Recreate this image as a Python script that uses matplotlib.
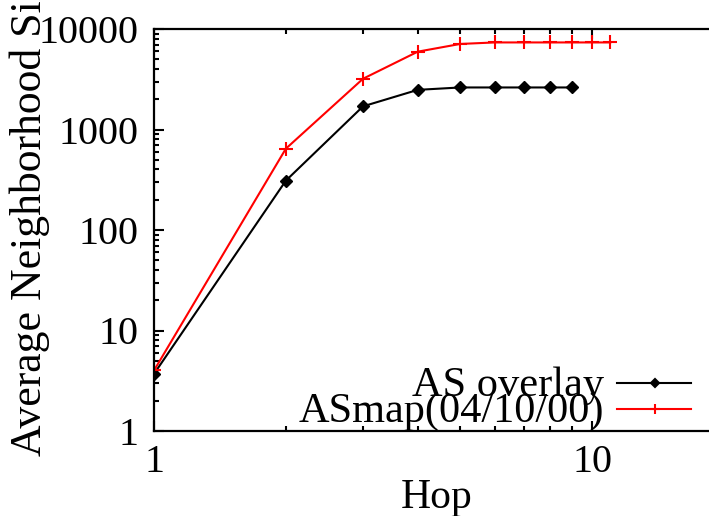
import matplotlib
matplotlib.use("Agg")
import matplotlib.pyplot as plt
from matplotlib.ticker import FixedLocator, NullFormatter
from matplotlib.lines import Line2D

# Average neighborhood size per hop count
hops_overlay = [1, 2, 3, 4, 5, 6, 7, 8, 9]
size_overlay = [3.7, 310, 1700, 2480, 2620, 2620, 2620, 2620, 2620]

hops_asmap = [1, 2, 3, 4, 5, 6, 7, 8, 9, 10, 11]
size_asmap = [4.0, 645, 3200, 5950, 7100, 7350, 7350, 7350, 7350, 7350, 7350]

series_labels = ["AS overlay", "ASmap(04/10/00)"]
series_colors = ["black", "red"]
series_markers = ["D", "+"]

x_ticks = [1, 10]
x_tick_labels = ["1", "10"]
y_ticks = [1, 10, 100, 1000, 10000]
y_tick_labels = ["1", "10", "100", "1000", "10000"]

plt.rcParams["font.family"] = ["Liberation Serif", "DejaVu Serif"]

W, H = 709, 516
fig = plt.figure(figsize=(W / 100, H / 100), dpi=100)

left_px, right_px, top_px, bottom_px = 154, 724, 29, 431
ax = fig.add_axes([left_px / W, 1 - bottom_px / H,
                   (right_px - left_px) / W, (bottom_px - top_px) / H])

ax.plot(hops_overlay, size_overlay, color=series_colors[0], lw=1.5,
        marker=series_markers[0], ms=6, mec=series_colors[0], mfc=series_colors[0])
ax.plot(hops_asmap, size_asmap, color=series_colors[1], lw=1.5,
        marker=series_markers[1], ms=10, mew=1.5)

ax.set_xscale("log")
ax.set_yscale("log")
ax.set_xlim(1, 20)
ax.set_ylim(1, 10000)

ax.xaxis.set_major_locator(FixedLocator(x_ticks))
ax.set_xticklabels(x_tick_labels)
ax.xaxis.set_minor_locator(FixedLocator([2, 3, 4, 5, 6, 7, 8, 9]))
ax.xaxis.set_minor_formatter(NullFormatter())

ax.yaxis.set_major_locator(FixedLocator(y_ticks))
ax.set_yticklabels(y_tick_labels)
minor_y = [m * 10 ** d for d in range(4) for m in range(2, 10)]
ax.yaxis.set_minor_locator(FixedLocator(minor_y))
ax.yaxis.set_minor_formatter(NullFormatter())

ax.tick_params(which="both", direction="in", top=True, right=True,
               width=1.5, labelsize=29, colors="black")
ax.tick_params(which="major", length=7)
ax.tick_params(which="minor", length=3.5)
ax.tick_params(axis="y", pad=11)
ax.tick_params(axis="x", pad=9)
for s in ax.spines.values():
    s.set_linewidth(1.6)

fig.text(437 / W, 1 - 508 / H, "Hop", ha="center", va="baseline", fontsize=30)
fig.text(30 / W, 1 - 456 / H, "Average Neighborhood Size", rotation=90,
         ha="center", va="bottom", fontsize=31.5)

# key: label on the left, line sample on the right
key_line_y = [383, 409]
key_text_y = [396, 422]
for lab, col, mk, ly, ty in zip(series_labels, series_colors, series_markers,
                                key_line_y, key_text_y):
    fig.text(604 / W, 1 - ty / H, lab, ha="right", va="baseline", fontsize=30.5)
    fy = 1 - ly / H
    fig.add_artist(Line2D([617 / W, 691 / W], [fy, fy], color=col, lw=1.5,
                          transform=fig.transFigure))
    fig.add_artist(Line2D([655 / W], [fy], color=col, marker=mk,
                          ms=4.5 if mk == "D" else 7, mew=1.5, mfc=col, mec=col,
                          transform=fig.transFigure))

fig.savefig("out.png", dpi=100)
